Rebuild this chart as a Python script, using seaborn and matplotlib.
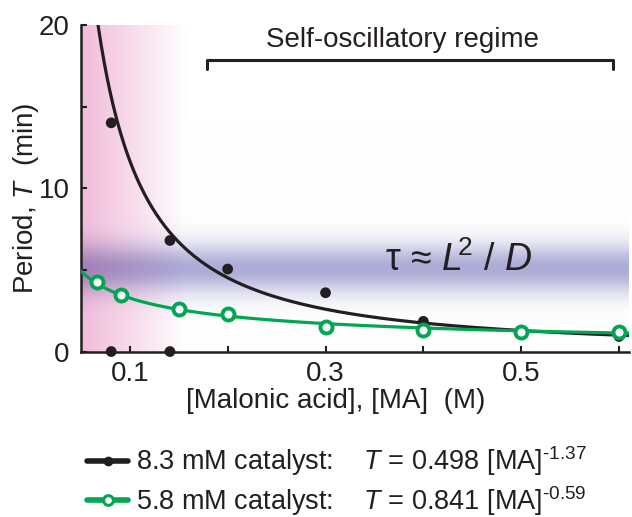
import numpy as np
import pandas as pd
import seaborn as sns
import matplotlib.pyplot as plt
from matplotlib.lines import Line2D

# data
ma_83 = [0.081, 0.141, 0.2, 0.3, 0.4, 0.5, 0.6]
period_83 = [14.0, 6.8, 5.05, 3.6, 1.85, 1.08, 0.92]
ma_83_none = [0.081, 0.141]          # no oscillations -> plotted at 0
period_83_none = [0.0, 0.0]
ma_58 = [0.066, 0.091, 0.15, 0.2, 0.3, 0.4, 0.5, 0.6]
period_58 = [4.25, 3.45, 2.62, 2.27, 1.53, 1.33, 1.18, 1.18]

# power-law fits given in the legend
fit_83 = (0.498, -1.37)
fit_58 = (0.841, -0.59)

sns.set_style("ticks")
plt.rcParams['font.family'] = ['Liberation Sans', 'DejaVu Sans']
plt.rcParams['mathtext.fontset'] = 'custom'
plt.rcParams['mathtext.rm'] = 'Liberation Sans'
plt.rcParams['mathtext.it'] = 'Liberation Sans:italic'

ink = '#231f20'
green = '#00a651'

fig = plt.figure(figsize=(6.32, 5.17), dpi=100)
ax = fig.add_axes([0.128, 0.32, 0.867, 0.632])

xmin, xmax, ymin, ymax = 0.05, 0.61, 0, 20

# background shading: pink fade on the left, blue horizontal band
gx = np.linspace(xmin, xmax, 400)
gy = np.linspace(ymin, ymax, 400)
X, Y = np.meshgrid(gx, gy)
a_pink = np.clip(1 - (X - xmin) / (0.158 - xmin), 0, 1)
a_blue = np.exp(-((Y - 5.1) / 1.5) ** 2)
pink = np.array([241, 188, 218]) / 255
blue = np.array([172, 172, 214]) / 255
img = np.ones(X.shape + (3,))
for i in range(3):
    p = 1 - a_pink * (1 - pink[i])
    b = 1 - a_blue * (1 - blue[i])
    img[..., i] = p * b
ax.imshow(img, extent=[xmin, xmax, ymin, ymax], origin='lower',
          aspect='auto', zorder=0, interpolation='bilinear')

# fitted curves
xs = np.linspace(xmin, xmax, 400)
df_fit = pd.DataFrame({'ma': xs,
                       'T83': fit_83[0] * xs ** fit_83[1],
                       'T58': fit_58[0] * xs ** fit_58[1]})
sns.lineplot(data=df_fit, x='ma', y='T83', color=ink, lw=2.3, ax=ax, zorder=3)
sns.lineplot(data=df_fit, x='ma', y='T58', color=green, lw=2.3, ax=ax, zorder=3)

# measured points
sns.scatterplot(x=ma_83 + ma_83_none, y=period_83 + period_83_none, color=ink,
                s=60, edgecolor='none', ax=ax, zorder=4, clip_on=False)
sns.scatterplot(x=ma_58, y=period_58, color='white', edgecolor=green,
                linewidth=2.8, s=75, ax=ax, zorder=5, clip_on=False)

ax.set_xlim(xmin, xmax)
ax.set_ylim(ymin, ymax)
ax.set_xticks([0.1, 0.2, 0.3, 0.4, 0.5, 0.6])
ax.set_xticklabels(['0.1', '', '0.3', '', '0.5', ''])
ax.set_yticks([0, 5, 10, 15, 20])
ax.set_yticklabels(['0', '', '10', '', '20'])
ax.tick_params(direction='in', length=4, width=1.5, color=ink,
               labelsize=20, labelcolor=ink, pad=8)
ax.tick_params(axis='x', pad=7)
for side in ['left', 'bottom']:
    ax.spines[side].set_linewidth(1.8)
    ax.spines[side].set_color(ink)
sns.despine(ax=ax)

ax.set_xlabel('[Malonic acid], [MA]  (M)', fontsize=20, color=ink)
ax.xaxis.set_label_coords(0.465, -0.112)
ax.set_ylabel('Period, $T$  (min)', fontsize=20, color=ink)
ax.yaxis.set_label_coords(-0.072, 0.47)

# self-oscillatory regime bracket
ax.plot([0.179, 0.179, 0.594, 0.594], [17.3, 17.85, 17.85, 17.3],
        color=ink, lw=2.2, solid_joinstyle='round', zorder=6)
ax.text(0.379, 19.05, 'Self-oscillatory regime', fontsize=20, color=ink,
        ha='center', va='center')
ax.text(0.436, 5.6, r'τ ≈ $L^{\!\!2}$ / $D$', fontsize=27, color=ink,
        ha='center', va='center', zorder=6)

handles = [
    Line2D([], [], color=ink, lw=4, marker='o', ms=6, mfc=ink, mec=ink),
    Line2D([], [], color=green, lw=4, marker='o', ms=7, mfc='white',
           mec=green, mew=2.2),
]
labels = [r'8.3 mM catalyst:    $T$ = 0.498 [MA]$^{\text{-1.37}}$',
          r'5.8 mM catalyst:    $T$ = 0.841 [MA]$^{\text{-0.59}}$']
fig.legend(handles, labels, loc='upper left', bbox_to_anchor=(0.138, 0.14),
           frameon=False, fontsize=19.5, handlelength=1.5, handletextpad=0.3,
           labelspacing=0.2, borderaxespad=0, borderpad=0, labelcolor=ink)

fig.savefig('out.png', dpi=100)
